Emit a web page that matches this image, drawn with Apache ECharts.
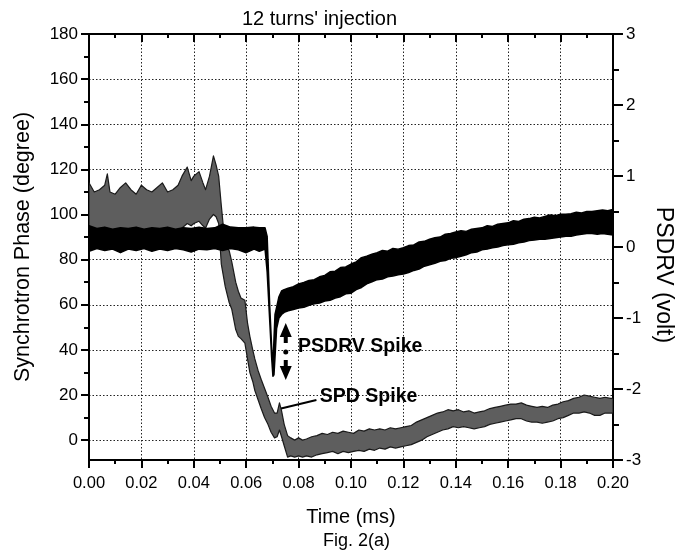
<!DOCTYPE html>
<html>
<head>
<meta charset="utf-8">
<script src="https://cdn.jsdelivr.net/npm/echarts@6/dist/echarts.min.js"></script>
<style>
  html, body { margin: 0; padding: 0; background: #fff; }
  #chart { width: 683px; height: 560px; }
</style>
</head>
<body>
<div id="chart"></div>
<script>
// ---- Synchrotron phase (left axis, degree): envelope of the noisy band ----
const phaseTime = [
  0.000, 0.002, 0.004, 0.006, 0.007, 0.008, 0.010, 0.012, 0.014, 0.016,
  0.018, 0.020, 0.022, 0.024, 0.026, 0.028, 0.030, 0.032, 0.034, 0.0355,
  0.0375, 0.039, 0.040, 0.042, 0.0435, 0.0445, 0.046, 0.0475, 0.0485, 0.0495,
  0.0505, 0.052, 0.0535, 0.0545, 0.056, 0.057, 0.058, 0.0595, 0.0605, 0.0614,
  0.0625, 0.0633, 0.0645, 0.0657, 0.067, 0.0683, 0.0695, 0.0708, 0.0718, 0.0727,
  0.0735, 0.0745, 0.0758, 0.077, 0.0785, 0.080, 0.0815, 0.083, 0.085, 0.087,
  0.089, 0.091, 0.093, 0.095, 0.097, 0.099, 0.101, 0.103, 0.105, 0.107,
  0.109, 0.111, 0.113, 0.115, 0.117, 0.119, 0.121, 0.123, 0.125, 0.127,
  0.129, 0.131, 0.133, 0.135, 0.137, 0.139, 0.141, 0.143, 0.145, 0.147,
  0.149, 0.151, 0.153, 0.155, 0.157, 0.159, 0.161, 0.163, 0.165, 0.167,
  0.169, 0.171, 0.173, 0.175, 0.177, 0.179, 0.181, 0.183, 0.185, 0.187,
  0.189, 0.191, 0.193, 0.195, 0.197, 0.199, 0.200
];
const phaseHigh = [
  114, 110, 111, 113, 118, 110, 109, 112, 114, 111,
  109, 113, 111, 110, 112, 114, 110, 111, 113, 117,
  121, 115, 117, 119, 114, 111, 117, 126, 122, 117,
  104, 86, 84, 79, 70, 66, 63, 62, 52, 46,
  40, 36, 31, 27, 23, 19, 15, 12, 12, 16.5,
  13, 7, 2, 1, 0, 1, 0, 0.5, 1.5, 2,
  3, 2.5, 3.5, 3, 4, 3.5, 3, 4.5, 4, 5,
  4.5, 5, 4.5, 5.5, 5, 5.5, 6, 6.5, 8, 9,
  10, 11, 12, 12.5, 13.5, 13, 13.5, 12.5, 13, 12,
  12.5, 13, 14, 14.5, 15, 15.5, 16, 16, 16.5, 15.5,
  15, 14.5, 15, 14.5, 15.5, 16, 17, 17.5, 18.5, 19,
  20, 19.5, 19, 18.5, 19, 18.5, 18.5
];
const phaseLow = [
  93, 93, 93, 93, 93, 93, 93, 93, 93, 93,
  93, 93, 93, 93, 93, 93, 93, 93, 93, 94,
  96, 95, 96, 97, 95, 94, 98, 100, 99, 96,
  78, 68, 61, 58, 49, 46, 45, 43, 36, 30,
  26, 22, 18, 14, 10, 7, 3.5, 1, 1.5, 4.5,
  1.5, -2.5, -7.5, -7, -7.5, -7, -7.5, -7, -7.5, -6.5,
  -6, -5.5, -5, -6, -5, -5.5, -5, -4.5, -5, -4,
  -4.5, -3.5, -4, -3, -3.5, -3, -2.5, -2, -1, 0,
  1.5, 2.5, 3.5, 4.5, 5, 6, 5.5, 6, 5.5, 5,
  5.5, 6, 7, 7.5, 8, 8.5, 9, 9.5, 9.5, 8.5,
  8, 8, 7.5, 8, 8.5, 9.5, 10, 11, 12, 12,
  12.5, 12, 11, 11, 12, 12, 12
];

// ---- PSDRV (right axis, volt): envelope of the band ----
const driveTime = [
  0.000, 0.003, 0.006, 0.009, 0.012, 0.015, 0.018, 0.021, 0.024, 0.027,
  0.030, 0.033, 0.036, 0.039, 0.042, 0.045, 0.048, 0.051, 0.054, 0.057,
  0.060, 0.063, 0.065, 0.0672, 0.068, 0.069, 0.0697, 0.0702, 0.0706, 0.0710,
  0.0716, 0.0725, 0.0735, 0.0745, 0.076, 0.078, 0.080, 0.082, 0.084, 0.086,
  0.088, 0.090, 0.092, 0.094, 0.096, 0.098, 0.100, 0.102, 0.104, 0.106,
  0.108, 0.110, 0.112, 0.114, 0.116, 0.118, 0.120, 0.122, 0.124, 0.126,
  0.128, 0.130, 0.132, 0.134, 0.136, 0.138, 0.140, 0.142, 0.144, 0.146,
  0.148, 0.150, 0.152, 0.154, 0.156, 0.158, 0.160, 0.162, 0.164, 0.166,
  0.168, 0.170, 0.172, 0.174, 0.176, 0.178, 0.180, 0.182, 0.184, 0.186,
  0.188, 0.190, 0.192, 0.194, 0.196, 0.198, 0.200
];
const driveHigh = [
  0.30, 0.26, 0.28, 0.25, 0.27, 0.26, 0.28, 0.25, 0.27, 0.26,
  0.28, 0.25, 0.27, 0.26, 0.28, 0.26, 0.27, 0.32, 0.28, 0.27,
  0.27, 0.28, 0.27, 0.27, 0.15, -0.85, -1.40, -1.70, -1.30, -0.95,
  -0.85, -0.70, -0.62, -0.60, -0.58, -0.56, -0.52, -0.50, -0.47, -0.46,
  -0.42, -0.40, -0.35, -0.34, -0.29, -0.28, -0.24, -0.21, -0.15, -0.13,
  -0.10, -0.08, -0.05, -0.06, -0.02, -0.03, -0.01, 0.02, 0.03, 0.07,
  0.08, 0.11, 0.13, 0.14, 0.18, 0.19, 0.21, 0.23, 0.22, 0.25,
  0.26, 0.27, 0.30, 0.29, 0.32, 0.33, 0.34, 0.37, 0.36, 0.39,
  0.40, 0.42, 0.41, 0.43, 0.45, 0.44, 0.46, 0.46, 0.47, 0.49,
  0.48, 0.50, 0.50, 0.51, 0.52, 0.51, 0.53
];
const driveLow = [
  -0.06, -0.02, -0.05, -0.03, -0.08, -0.03, -0.05, -0.02, -0.06, -0.03,
  -0.05, -0.02, -0.04, -0.07, -0.03, -0.04, -0.02, -0.05, -0.02, -0.04,
  -0.08, -0.03, -0.06, -0.03, -0.35, -1.05, -1.55, -1.82, -1.80, -1.55,
  -1.15, -1.00, -0.95, -0.92, -0.90, -0.88, -0.86, -0.85, -0.82, -0.80,
  -0.79, -0.76, -0.75, -0.72, -0.70, -0.66, -0.65, -0.60, -0.57, -0.52,
  -0.49, -0.46, -0.45, -0.42, -0.41, -0.39, -0.38, -0.36, -0.33, -0.31,
  -0.27, -0.25, -0.23, -0.20, -0.19, -0.16, -0.15, -0.13, -0.11, -0.08,
  -0.07, -0.04, -0.03, -0.01, 0.00, 0.02, 0.03, 0.04, 0.06, 0.07,
  0.09, 0.10, 0.11, 0.11, 0.12, 0.13, 0.14, 0.15, 0.15, 0.17,
  0.18, 0.19, 0.19, 0.18, 0.19, 0.18, 0.17
];

// ---- Tick labels ----
const phaseTicks = [0, 20, 40, 60, 80, 100, 120, 140, 160, 180];
const phaseMinorTicks = [10, 30, 50, 70, 90, 110, 130, 150, 170];

const FONT = 'Liberation Sans, Arial, Helvetica, sans-serif';

// Band drawn as one polygon through the axes' scales (api.coord)
function bandSeries(name, yAxisIndex, xs, lo, hi, fill, stroke, strokeWidth, extra) {
  return Object.assign({
    name: name, type: 'custom', coordinateSystem: 'cartesian2d',
    xAxisIndex: 0, yAxisIndex: yAxisIndex, silent: true, clip: true,
    data: xs.map((x, i) => [x, lo[i], hi[i]]),
    encode: { x: 0, y: [1, 2] },
    renderItem: function (params, api) {
      if (params.dataIndex !== 0) return null;
      const upper = xs.map((x, i) => api.coord([x, hi[i]]));
      const lower = xs.map((x, i) => api.coord([x, lo[i]])).reverse();
      return {
        type: 'polygon',
        shape: { points: upper.concat(lower) },
        style: { fill: fill, stroke: stroke, lineWidth: strokeWidth, lineJoin: 'round' }
      };
    }
  }, extra || {});
}

const chart = echarts.init(document.getElementById('chart'), null, { renderer: 'canvas' });

const gridStyle = { show: true, lineStyle: { color: '#222', width: 1, type: [1.5, 2] } };

chart.setOption({
  animation: false,
  backgroundColor: '#fff',
  textStyle: { fontFamily: FONT, color: '#000' },
  title: [
    { text: "12 turns' injection", left: 242, top: 9, padding: 0,
      textStyle: { fontSize: 20, fontWeight: 'normal', fontFamily: FONT, color: '#000' } },
    { text: 'Fig. 2(a)', left: 323, top: 532, padding: 0,
      textStyle: { fontSize: 18, fontWeight: 'normal', fontFamily: FONT, color: '#000' } }
  ],
  grid: { left: 89, right: 64, top: 34, bottom: 100, containLabel: false },
  xAxis: [
    {
      type: 'value', position: 'bottom', min: 0, max: 0.2, interval: 0.02,
      name: 'Time (ms)', nameLocation: 'middle', nameGap: 47,
      nameTextStyle: { fontSize: 20, fontFamily: FONT, color: '#000' },
      axisLine: { show: true, onZero: false, lineStyle: { color: '#000', width: 2 } },
      axisTick: { show: true, length: 8, lineStyle: { color: '#000', width: 2 } },
      minorTick: { show: true, splitNumber: 2, length: 4, lineStyle: { color: '#000', width: 2 } },
      axisLabel: { fontSize: 16.5, fontFamily: FONT, color: '#000', margin: 15,
        formatter: v => v.toFixed(2) },
      splitLine: gridStyle
    },
    {
      type: 'value', position: 'top', min: 0, max: 0.2, interval: 0.02,
      axisLine: { show: true, onZero: false, lineStyle: { color: '#000', width: 2 } },
      axisTick: { show: true, inside: true, length: 8, lineStyle: { color: '#000', width: 2 } },
      minorTick: { show: true, splitNumber: 2, length: 4, lineStyle: { color: '#000', width: 2 } },
      axisLabel: { show: false },
      splitLine: { show: false }
    }
  ],
  yAxis: [
    {
      type: 'value', position: 'left', min: -8.8, max: 180,
      name: 'Synchrotron Phase (degree)', nameLocation: 'middle', nameGap: 55, nameRotate: 90,
      nameTextStyle: { fontSize: 21.5, fontFamily: FONT, color: '#000' },
      axisLine: { show: true, onZero: false, lineStyle: { color: '#000', width: 2 } },
      axisTick: { show: true, length: 8, customValues: phaseTicks, lineStyle: { color: '#000', width: 2 } },
      axisLabel: { fontSize: 17, fontFamily: FONT, color: '#000', margin: 11, customValues: phaseTicks },
      splitLine: gridStyle
    },
    {
      type: 'value', position: 'right', min: -3, max: 3, interval: 1,
      name: 'PSDRV (volt)', nameLocation: 'middle', nameGap: 34, nameRotate: -90,
      nameTextStyle: { fontSize: 23, fontFamily: FONT, color: '#000', padding: [0, 0, 0, 56] },
      axisLine: { show: true, onZero: false, lineStyle: { color: '#000', width: 2 } },
      axisTick: { show: true, length: 10, lineStyle: { color: '#000', width: 2 } },
      minorTick: { show: true, splitNumber: 2, length: 6, lineStyle: { color: '#000', width: 2 } },
      axisLabel: { fontSize: 17, fontFamily: FONT, color: '#000', margin: 13 },
      splitLine: { show: false }
    },
    {
      type: 'value', position: 'left', min: -8.8, max: 180,
      axisLine: { show: false },
      axisTick: { show: true, length: 5, customValues: phaseMinorTicks, lineStyle: { color: '#000', width: 2 } },
      axisLabel: { show: false },
      splitLine: { show: false }
    }
  ],
  series: [
    bandSeries('Synchrotron Phase', 0, phaseTime, phaseLow, phaseHigh, '#5e5e5e', '#1a1a1a', 1.2, {
      markLine: {
        silent: true, animation: false,
        symbol: ['none', 'arrow'], symbolSize: [0, 9],
        label: { show: false },
        lineStyle: { color: '#000', width: 2, type: 'solid' },
        data: [[{ coord: [0.0868, 17.8] }, { coord: [0.0733, 14.0] }]]
      },
      markPoint: {
        silent: true, animation: false,
        data: [{
          coord: [0.0879, 19.1], symbol: 'circle', symbolSize: 1,
          itemStyle: { color: 'rgba(0,0,0,0)' },
          label: { show: true, position: 'right', distance: 0, formatter: 'SPD Spike',
            fontSize: 19.5, fontWeight: 'bold', fontFamily: FONT, color: '#000' }
        }]
      }
    }),
    bandSeries('PSDRV', 1, driveTime, driveLow, driveHigh, '#000', '#000', 1.5, {
      markPoint: {
        silent: true, animation: false,
        data: [
          { coord: [0.0751, -1.211], symbol: 'path://M6,0 L12,14 L8,14 L8,20 L4,20 L4,14 L0,14 Z',
            symbolSize: [12, 20], itemStyle: { color: '#000' }, label: { show: false } },
          { coord: [0.0751, -1.479], symbol: 'circle', symbolSize: 5,
            itemStyle: { color: '#000' }, label: { show: false } },
          { coord: [0.0751, -1.732], symbol: 'path://M6,0 L12,14 L8,14 L8,20 L4,20 L4,14 L0,14 Z',
            symbolRotate: 180, symbolSize: [12, 20], itemStyle: { color: '#000' }, label: { show: false } },
          { coord: [0.0796, -1.408], symbol: 'circle', symbolSize: 1,
            itemStyle: { color: 'rgba(0,0,0,0)' },
            label: { show: true, position: 'right', distance: 0, formatter: 'PSDRV Spike',
              fontSize: 19.5, fontWeight: 'bold', fontFamily: FONT, color: '#000' } }
        ]
      }
    })
  ]
});
</script>
</body>
</html>
